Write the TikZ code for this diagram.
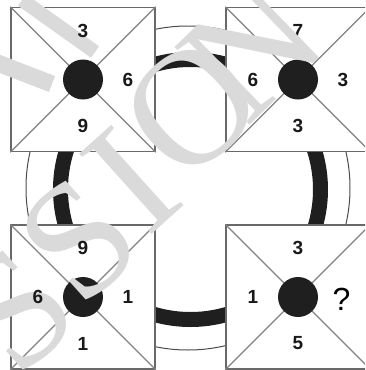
\documentclass[tikz,border=0pt]{standalone}
\usepackage{fontspec}
\setmainfont{Liberation Sans}
\newfontfamily\wmfont{Liberation Serif}
\definecolor{wm}{RGB}{218,218,218}
\definecolor{edge}{RGB}{105,105,105}
\definecolor{diag}{RGB}{130,130,130}
\begin{document}
\begin{tikzpicture}[x=1pt,y=-1pt,
  sq/.style={rectangle, draw=edge, line width=1.6pt, fill=white, minimum size=144pt, inner sep=0pt},
  dg/.style={draw=diag, line width=1.1pt},
  dot/.style={circle, fill=black!88, minimum size=40pt, inner sep=0pt},
  num/.style={font=\fontsize{19}{19}\selectfont\bfseries, inner sep=0pt, text=black!90},
  qm/.style={font=\fontsize{32}{32}\selectfont, inner sep=0pt, text=black},
  wml/.style={font=\wmfont\fontsize{165}{165}\selectfont, text=wm, rotate=42, inner sep=0pt},
  wmband/.style={draw=wm, line width=14pt}]
\useasboundingbox (0,0) rectangle (365,370);
\clip (0,0) rectangle (365,370);
% ring
\draw[draw=black!70, line width=1pt] (188,188) circle[radius=162pt];
\draw[black!88, line width=15pt] (190.5,189.5) circle[radius=130pt];
% squares
\node[sq] (tl) at (83,79.5) {};
\node[sq] (tr) at (298,79.5) {};
\node[sq] (bl) at (83,297) {};
\node[sq] (br) at (298,297) {};
\foreach \s in {tl,tr,bl,br}{
  \draw[dg] (\s.north west) -- (\s.south east);
  \draw[dg] (\s.north east) -- (\s.south west);
  \node[dot] (\s d) at (\s.center) {};
}
% numbers partly hidden by the watermark
\node[num] (tll) at ([xshift=-45pt]tl.center) {2};
\node[num] (trt) at ([yshift=49pt]tr.center) {7};
\node[num] (trl) at ([xshift=-45pt]tr.center) {6};
% watermark
\node[wml] (w1) at (16,310) {S};
\node[wml] (w2) at (79,240) {S};
\node[wml] (w3) at (132,180) {I};
\node[wml] (w4) at (192,108) {O};
\node[wml, rotate=2] (w5) at (252,48) {N};
\coordinate (b1a) at (22,0);
\coordinate (b1b) at (95,52);
\coordinate (b2a) at (-5,62);
\coordinate (b2b) at (52,84);
\draw[wmband] (b1a) -- (b1b);
\draw[wmband, line width=17pt] (b2a) -- (b2b);
% numbers
\node[num] (tlt) at ([yshift=49pt]tl.center) {3};
\node[num] (tlr) at ([xshift=45pt]tl.center) {6};
\node[num] (tlb) at ([yshift=-46.5pt]tl.center) {9};
\node[num] (trr) at ([xshift=45pt]tr.center) {3};
\node[num] (trb) at ([yshift=-46.5pt]tr.center) {3};
\node[num] (blt) at ([yshift=49pt]bl.center) {9};
\node[num] (blr) at ([xshift=45pt]bl.center) {1};
\node[num] (blb) at ([yshift=-46.5pt]bl.center) {1};
\node[num] (bll) at ([xshift=-45pt]bl.center) {6};
\node[num] (brt) at ([yshift=49pt]br.center) {3};
\node[qm] (brr) at ([xshift=43.5pt,yshift=-2.5pt]br.center) {?};
\node[num] (brb) at ([yshift=-46.5pt]br.center) {5};
\node[num] (brl) at ([xshift=-45pt]br.center) {1};
\end{tikzpicture}
\end{document}
